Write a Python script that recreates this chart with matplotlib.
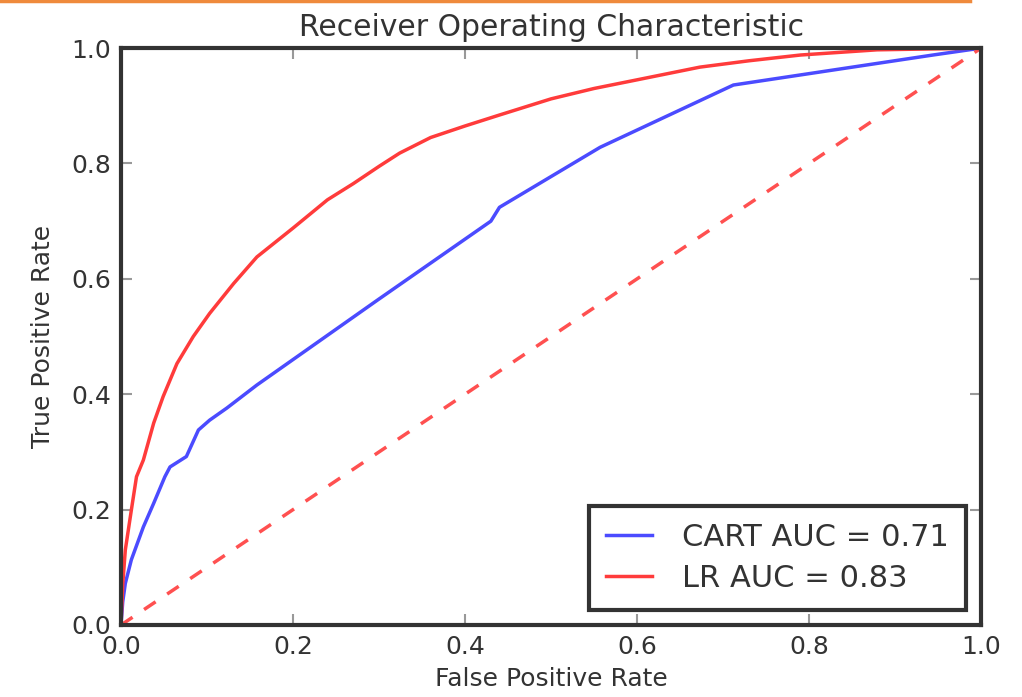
import matplotlib
matplotlib.use("Agg")
import matplotlib.pyplot as plt
from matplotlib.lines import Line2D

# ROC points
cart_fpr = [0.0, 0.002, 0.005, 0.012, 0.026, 0.038, 0.051, 0.057, 0.076, 0.09, 0.103, 0.123,
            0.158, 0.298, 0.43, 0.44, 0.557, 0.712, 0.828, 0.944, 1.0]
cart_tpr = [0.0, 0.04, 0.072, 0.113, 0.17, 0.211, 0.257, 0.274, 0.292, 0.338, 0.355, 0.376,
            0.416, 0.563, 0.70, 0.724, 0.828, 0.936, 0.962, 0.988, 1.0]

lr_fpr = [0.0, 0.002, 0.005, 0.012, 0.018, 0.026, 0.038, 0.049, 0.065, 0.084, 0.103, 0.131,
          0.158, 0.2, 0.24, 0.27, 0.3, 0.324, 0.36, 0.4, 0.44, 0.5, 0.55, 0.6, 0.673, 0.73,
          0.79, 0.879, 1.0]
lr_tpr = [0.0, 0.07, 0.13, 0.199, 0.257, 0.286, 0.35, 0.396, 0.453, 0.50, 0.54, 0.592,
          0.638, 0.688, 0.737, 0.765, 0.795, 0.818, 0.845, 0.865, 0.884, 0.912, 0.93, 0.945,
          0.967, 0.978, 0.988, 0.997, 1.0]

cart_auc = 0.71
lr_auc = 0.83

fig = plt.figure(figsize=(10.22, 6.97), dpi=100)
ax = fig.add_axes([0.1184, 0.1033, 0.8416, 0.8277])

# orange strip along the top of the screenshot
fig.add_artist(Line2D([0, 970 / 1022], [0.998, 0.998], transform=fig.transFigure,
                      color="#ef8a3c", lw=2.5))

ax.plot(cart_fpr, cart_tpr, color="#4b4bff", lw=2.5, label="CART AUC = %0.2f" % cart_auc)
ax.plot(lr_fpr, lr_tpr, color="#ff3b3b", lw=2.5, label="LR AUC = %0.2f" % lr_auc)
ax.plot([0, 1], [0, 1], color="#ff5050", ls="--", lw=2.5, dashes=(4, 4))

ax.set_xlim(0, 1)
ax.set_ylim(0, 1)
ax.set_xticks([0, 0.2, 0.4, 0.6, 0.8, 1.0])
ax.set_yticks([0, 0.2, 0.4, 0.6, 0.8, 1.0])
ax.xaxis.set_major_formatter(matplotlib.ticker.FormatStrFormatter("%.1f"))
ax.yaxis.set_major_formatter(matplotlib.ticker.FormatStrFormatter("%.1f"))
ax.tick_params(direction="in", top=True, right=True, length=8, width=1.5,
               color="#999999", labelsize=18, labelcolor="#333333", pad=7)
for s in ax.spines.values():
    s.set_linewidth(3)
    s.set_color("#333333")

ax.set_title("Receiver Operating Characteristic", fontsize=21.5, color="#333333", pad=9)
ax.set_xlabel("False Positive Rate", fontsize=18, color="#333333", labelpad=6)
ax.set_ylabel("True Positive Rate", fontsize=18, color="#333333", labelpad=12)

leg = ax.legend(loc="lower right", fontsize=22, fancybox=False, framealpha=1,
                handlelength=1.5, handletextpad=1.0, borderpad=0.55, labelspacing=0.4,
                borderaxespad=0.5)
leg.get_frame().set_edgecolor("#333333")
leg.get_frame().set_linewidth(3)
for t in leg.get_texts():
    t.set_color("#333333")

plt.savefig("out.png", dpi=100)
